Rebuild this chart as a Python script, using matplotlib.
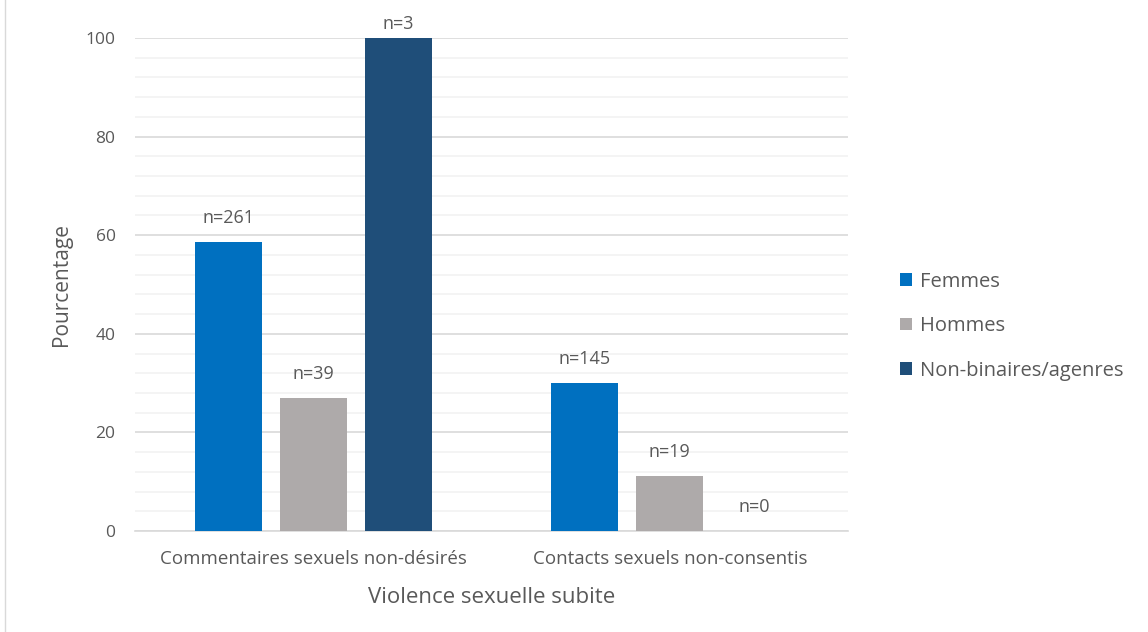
import matplotlib.pyplot as plt
import numpy as np
from matplotlib.patches import Patch, Rectangle

categories = ['Commentaires sexuels non-désirés', 'Contacts sexuels non-consentis']
groups = ['Femmes', 'Hommes', 'Non-binaires/agenres']
femmes = [58.6, 30.0]
hommes = [27.0, 11.2]
non_binaires = [100.0, 0.0]
counts = [[261, 145], [39, 19], [3, 0]]
colors = ['#0070C0', '#AEAAAA', '#1F4E79']

txt = '#595959'
plt.rcParams['font.family'] = ['Open Sans', 'DejaVu Sans']

fig = plt.figure(figsize=(11.48, 6.32), dpi=100)
ax = fig.add_axes([0.1176, 0.1598, 0.6211, 0.7801])

# outer chart frame
fig.patches.append(Rectangle((5 / 1148, -0.01), 1.2, 1.2, transform=fig.transFigure,
                             fill=False, edgecolor='#D9D9D9', linewidth=1))

x = np.arange(len(categories))
width = 0.188
step = 0.238
series = [femmes, hommes, non_binaires]
for i, (vals, c) in enumerate(zip(series, colors)):
    pos = x + (i - 1) * step
    ax.bar(pos, vals, width, color=c, zorder=3, label=groups[i])
    for p, v, n in zip(pos, vals, counts[i]):
        # labels at the top of the axis get pulled down a little
        off = 10 if v >= 100 else 17
        ax.annotate(f'n={n}', (p, v), xytext=(0, off), textcoords='offset points',
                    ha='center', va='center', fontsize=13, color=txt)

ax.set_xlim(-0.5, 1.5)
ax.set_ylim(0, 100)
ax.set_yticks(range(0, 101, 20))
ax.set_yticks(range(0, 101, 4), minor=True)
ax.grid(axis='y', which='major', color='#D9D9D9', linewidth=1.2, zorder=0)
ax.grid(axis='y', which='minor', color='#F2F2F2', linewidth=1.2, zorder=0)
ax.tick_params(axis='both', which='both', length=0, colors=txt, labelsize=12.5)
ax.tick_params(axis='y', pad=14)
ax.tick_params(axis='x', pad=14)
ax.set_xticks(x)
ax.set_xticklabels(categories, fontsize=13.5)
for s in ['top', 'right', 'left']:
    ax.spines[s].set_visible(False)
ax.spines['bottom'].set_color('#D9D9D9')
ax.spines['bottom'].set_linewidth(1.2)

ax.set_ylabel('Pourcentage', fontsize=15, color=txt, labelpad=10)
ax.set_xlabel('Violence sexuelle subite', fontsize=16, color=txt, labelpad=13)

handles = [Patch(facecolor=c, label=g) for c, g in zip(colors, groups)]
fig.legend(handles=handles, loc='center left', bbox_to_anchor=(0.768, 0.484),
           frameon=False, fontsize=14.5, labelcolor=txt, handlelength=0.6,
           handleheight=0.6, handletextpad=0.4, labelspacing=1.22)

fig.savefig('out.png', dpi=100)
